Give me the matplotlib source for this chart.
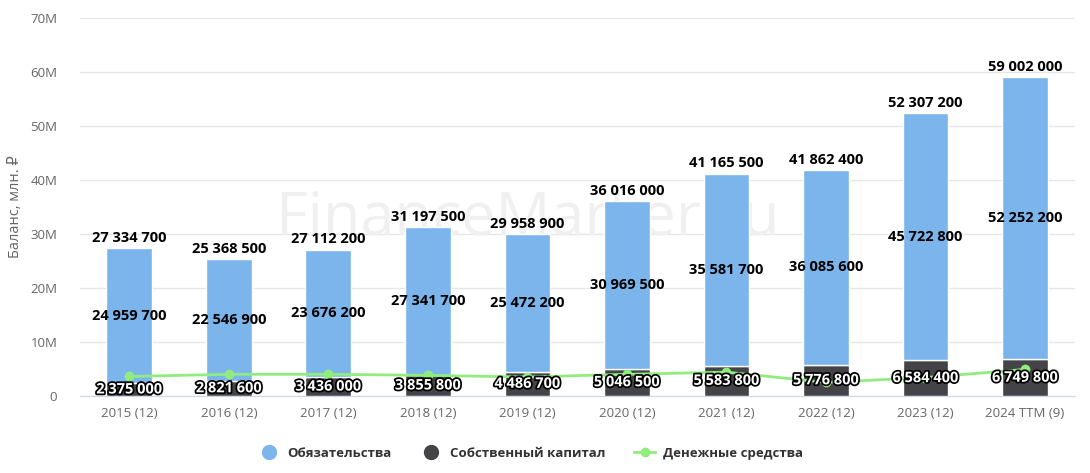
import numpy as np
import matplotlib
matplotlib.use('Agg')
import matplotlib.pyplot as plt
import matplotlib.patheffects as pe
from matplotlib.lines import Line2D

plt.rcParams['font.family'] = ['Open Sans', 'DejaVu Sans']

# data
years = ['2015 (12)', '2016 (12)', '2017 (12)', '2018 (12)', '2019 (12)',
         '2020 (12)', '2021 (12)', '2022 (12)', '2023 (12)', '2024 TTM (9)']
liabilities = [24959700, 22546900, 23676200, 27341700, 25472200,
               30969500, 35581700, 36085600, 45722800, 52252200]
equity = [2375000, 2821600, 3436000, 3855800, 4486700,
          5046500, 5583800, 5776800, 6584400, 6749800]
cash = [3.6e6, 4.0e6, 4.0e6, 3.8e6, 3.5e6, 4.0e6, 4.4e6, 2.5e6, 3.4e6, 4.9e6]

def fmt(v):
    return f'{v:,}'.replace(',', ' ')

fig = plt.figure(figsize=(10.9, 4.73), dpi=100)
ax = fig.add_axes([0.073, 0.163, 0.913, 0.799])

x = np.arange(len(years))
totals = [a + b for a, b in zip(liabilities, equity)]

ax.bar(x, equity, width=0.46, color='#434348', edgecolor='white', linewidth=1, zorder=2)
ax.bar(x, liabilities, bottom=equity, width=0.46, color='#7cb5ec', edgecolor='white', linewidth=1, zorder=2)
ax.plot(x, cash, color='#90ed7d', linewidth=2, marker='o', markersize=6, zorder=3)

outline = [pe.withStroke(linewidth=2.5, foreground='#000000')]
for i in range(len(years)):
    ax.text(x[i], totals[i] + 0.6e6, fmt(totals[i]), ha='center', va='bottom',
            fontsize=10.5, fontweight='bold', color='#000000', zorder=5)
    ax.text(x[i], equity[i] + liabilities[i] / 2, fmt(liabilities[i]), ha='center', va='center',
            fontsize=10.5, fontweight='bold', color='#000000', zorder=5)
    ax.text(x[i], equity[i] / 2, fmt(equity[i]), ha='center', va='center',
            fontsize=10.5, fontweight='bold', color='white', path_effects=outline, zorder=5)

ax.set_ylim(0, 70e6)
ax.set_xlim(-0.5, len(years) - 0.5)
ax.set_yticks(np.arange(0, 71e6, 10e6))
ax.set_yticklabels(['0'] + [f'{i}M' for i in range(10, 71, 10)])
ax.set_xticks(x)
ax.set_xticklabels(years)
ax.tick_params(axis='both', length=0, labelsize=9.5, colors='#666666', pad=8)
ax.tick_params(axis='y', pad=16)
ax.grid(axis='y', color='#e6e6e6', linewidth=1, zorder=0)
ax.set_axisbelow(True)
for s in ['top', 'right', 'left']:
    ax.spines[s].set_visible(False)
ax.spines['bottom'].set_color('#ccd6eb')

ax.set_ylabel('Баланс, млн. ₽', fontsize=10.5, color='#666666', labelpad=5)

ax.text(0.45, 0.47, 'FinanceMarker.ru', transform=ax.transAxes, ha='center', va='center',
        fontsize=44, color='#f0f0f0', zorder=1)

handles = [
    Line2D([], [], linestyle='none', marker='o', markersize=10, color='#7cb5ec'),
    Line2D([], [], linestyle='none', marker='o', markersize=10, color='#434348'),
    Line2D([], [], color='#90ed7d', linewidth=2, marker='o', markersize=6),
]
leg = fig.legend(handles, ['Обязательства', 'Собственный капитал', 'Денежные средства'],
                 loc='center', bbox_to_anchor=(0.487, 0.042), ncol=3, frameon=False,
                 prop={'size': 9.5, 'weight': 'bold'}, handlelength=1.6, columnspacing=2.2,
                 handletextpad=0.6)
for t in leg.get_texts():
    t.set_color('#333333')

fig.savefig('out.png', dpi=100)
